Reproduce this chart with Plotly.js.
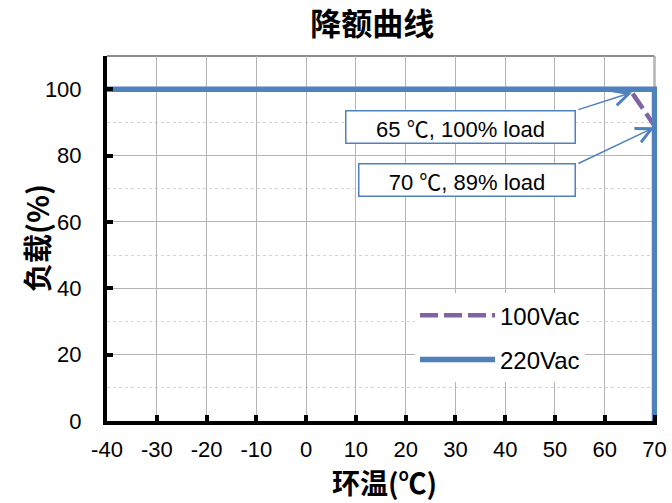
<!DOCTYPE html>
<html>
<head>
<meta charset="utf-8">
<script src="https://cdn.plot.ly/plotly-3.0.1.min.js"></script>
<style>html,body{margin:0;padding:0;background:#fff;}#chart{width:672px;height:503px;}</style>
</head>
<body>
<div id="chart"></div>
<script>
// ---- data ----
const temps100 = [-40, 65, 70];
const load100 = [100, 100, 89];
const temps220 = [-40, 70, 70];
const load220 = [100, 100, 0];
const seriesNames = ['100Vac', '220Vac'];
const xTicks = [-40, -30, -20, -10, 0, 10, 20, 30, 40, 50, 60, 70];
const yTicks = [0, 20, 40, 60, 80, 100];
const noteTemps = ['65', '70'];
const noteLoads = ['100% load', '89% load'];
const notePoints = [[65, 100], [70, 89]];
const chartTitle = '降额曲线';
const xTitle = '环温(℃)';
const yTitle = '负载(%)';

const FONT = "'Liberation Sans', Arial, 'Noto Sans CJK SC', sans-serif";
const CJK = "'Noto Sans CJK SC', 'Liberation Sans', sans-serif";
const BLUE = '#4f81bd';
const PURPLE = '#8064a2';
const xRange = [-40, 70.5];
const yRange = [0, 110];

function noteText(i) {
  return noteTemps[i] + ' <span style="font-family:Noto Sans CJK SC">℃</span>, ' + noteLoads[i];
}

const traces = [
  {x: temps100, y: load100, name: seriesNames[0], mode: 'lines', type: 'scatter', legendgroup: 'a',
   line: {color: PURPLE, width: 4.5, dash: '18px,6px'}},
  {x: temps220, y: load220, name: seriesNames[1], mode: 'lines', type: 'scatter', legendgroup: 'b',
   line: {color: BLUE, width: 5.5}}
];

const layout = {
  width: 672, height: 503,
  margin: {l: 107, r: 15, t: 56, b: 82},
  paper_bgcolor: '#fff', plot_bgcolor: '#fff',
  font: {family: FONT, size: 22, color: '#000'},
  title: {text: '<b>' + chartTitle + '</b>', font: {family: CJK, size: 31, color: '#000'},
          x: 0.554, xanchor: 'center', y: 0.952, yanchor: 'middle'},
  showlegend: true,
  legend: {x: 0.56, y: 0.35, xanchor: 'left', yanchor: 'top', bgcolor: '#fff',
           font: {family: FONT, size: 24}, itemwidth: 75, traceorder: 'grouped', tracegroupgap: 10},
  xaxis: {range: xRange, tickvals: xTicks, ticktext: xTicks.map(String),
          showline: true, linecolor: '#000', linewidth: 4,
          ticks: 'inside', ticklen: 6, tickwidth: 4, tickcolor: '#000',
          showgrid: true, gridcolor: '#b4b4b4', gridwidth: 1, zeroline: false,
          tickfont: {family: FONT, size: 22}, ticklabelstandoff: 6},
  yaxis: {range: yRange, tickvals: yTicks, ticktext: yTicks.map(String),
          showline: true, linecolor: '#000', linewidth: 4,
          ticks: 'inside', ticklen: 6, tickwidth: 4, tickcolor: '#000',
          showgrid: true, gridcolor: '#b4b4b4', gridwidth: 1, zeroline: false,
          minor: {dtick: 10, tick0: 0, showgrid: true, gridcolor: '#d2d2d2', griddash: 'dot', gridwidth: 1, ticks: ''},
          tickfont: {family: FONT, size: 22}, ticklabelstandoff: 17},
  shapes: [
    {type: 'line', xref: 'x', yref: 'paper', x0: xRange[0], x1: 70, y0: 1, y1: 1,
     line: {color: '#8c8c8c', width: 2}, layer: 'below'},
    {type: 'line', xref: 'x', yref: 'paper', x0: 70, x1: 70, y0: 0, y1: 1,
     line: {color: '#8c8c8c', width: 2}, layer: 'below'}
  ],
  annotations: [
    {xref: 'paper', yref: 'paper', x: 0.505, y: -0.168, xanchor: 'center', yanchor: 'middle',
     text: '<b>' + xTitle + '</b>', showarrow: false, font: {family: CJK, size: 28, color: '#000'}},
    {xref: 'paper', yref: 'paper', x: -0.13, y: 0.5, xanchor: 'center', yanchor: 'middle', textangle: -90,
     text: '<b>' + yTitle + '</b>', showarrow: false, font: {family: CJK, size: 29, color: '#000'}},
    {x: 31.1, y: 88.6, xref: 'x', yref: 'y', text: noteText(0), showarrow: false,
     bordercolor: BLUE, borderwidth: 1.5, bgcolor: '#fff', width: 226, height: 29, borderpad: 1,
     font: {family: FONT, size: 22, color: '#000'}},
    {x: 32.4, y: 72.6, xref: 'x', yref: 'y', text: noteText(1), showarrow: false,
     bordercolor: BLUE, borderwidth: 1.5, bgcolor: '#fff', width: 213, height: 29, borderpad: 1,
     font: {family: FONT, size: 22, color: '#000'}},
    {x: notePoints[0][0] + 0.5, y: notePoints[0][1] - 1, xref: 'x', yref: 'y', axref: 'x', ayref: 'y',
     ax: 54.4, ay: 93.7, text: '', showarrow: true, arrowhead: 5, arrowsize: 2, arrowwidth: 1.5, arrowcolor: BLUE},
    {x: notePoints[1][0], y: notePoints[1][1] - 0.5, xref: 'x', yref: 'y', axref: 'x', ayref: 'y',
     ax: 54.4, ay: 77.4, text: '', showarrow: true, arrowhead: 5, arrowsize: 2, arrowwidth: 1.5, arrowcolor: BLUE}
  ]
};

Plotly.newPlot('chart', traces, layout, {displayModeBar: false, staticPlot: true});
</script>
</body>
</html>
